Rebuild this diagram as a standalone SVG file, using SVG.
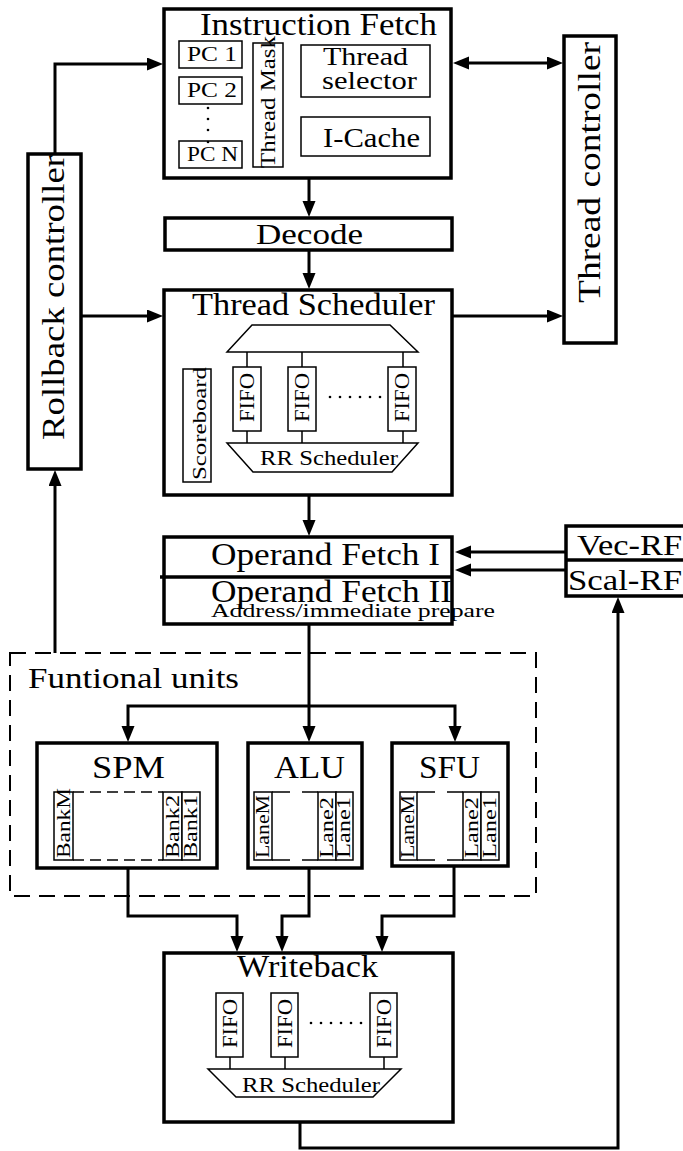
<svg xmlns="http://www.w3.org/2000/svg" width="683" height="1151" viewBox="0 0 683 1151">
  <style>
    text { font-family: "Liberation Serif", "DejaVu Serif", serif; fill: #000; }
    .blk { fill: #fff; stroke: #000; stroke-width: 3.5; }
    .sub { fill: #fff; stroke: #000; stroke-width: 1.5; }
    .thin { fill: none; stroke: #000; stroke-width: 1.5; }
    .dsh { fill: none; stroke: #000; stroke-width: 1.5; stroke-dasharray: 11 6; }
    .fu { fill: none; stroke: #000; stroke-width: 2; stroke-dasharray: 16 9; }
    .wire { fill: none; stroke: #000; stroke-width: 3; }
    .arr { marker-end: url(#head); }
    .t32 { font-size: 32px; }
    .t30 { font-size: 30px; }
    .t28 { font-size: 28px; }
    .t26 { font-size: 26px; }
    .t22 { font-size: 22px; }
    .t21 { font-size: 21px; }
    .t19 { font-size: 19px; }
    .t18 { font-size: 18px; }
  </style>
  <defs>
    <marker id="head" markerUnits="userSpaceOnUse" markerWidth="17" markerHeight="14" refX="1" refY="6.5" orient="auto-start-reverse">
      <path d="M0,0 L16,6.5 L0,13 z" fill="#000"/>
    </marker>
  </defs>

  <!-- Instruction Fetch -->
  <g id="instruction-fetch">
    <rect class="blk" x="164" y="9" width="287" height="169"/>
    <text class="t32" x="200" y="35" textLength="237" lengthAdjust="spacingAndGlyphs">Instruction Fetch</text>
    <rect class="sub" x="179" y="41" width="63" height="27"/>
    <text class="t21" x="187" y="61" textLength="50" lengthAdjust="spacingAndGlyphs">PC 1</text>
    <rect class="sub" x="179" y="77" width="63" height="27"/>
    <text class="t21" x="187" y="97" textLength="50" lengthAdjust="spacingAndGlyphs">PC 2</text>
    <rect class="sub" x="179" y="141" width="63" height="27"/>
    <text class="t21" x="187" y="161" textLength="51" lengthAdjust="spacingAndGlyphs">PC N</text>
    <g fill="#000">
      <circle cx="208" cy="108" r="1.3"/>
      <circle cx="208" cy="119" r="1.3"/>
      <circle cx="208" cy="130" r="1.3"/>
      <circle cx="208" cy="142" r="1.3"/>
    </g>
    <rect class="sub" x="253" y="43" width="30" height="124"/>
    <text class="t22" transform="translate(275,168) rotate(-90)" textLength="132" lengthAdjust="spacingAndGlyphs">Thread Mask</text>
    <rect class="sub" x="301" y="45" width="129" height="52"/>
    <text class="t26" x="323" y="65" textLength="85" lengthAdjust="spacingAndGlyphs">Thread</text>
    <text class="t26" x="322" y="89" textLength="95" lengthAdjust="spacingAndGlyphs">selector</text>
    <rect class="sub" x="301" y="117" width="129" height="39"/>
    <text class="t28" x="323" y="147" textLength="97" lengthAdjust="spacingAndGlyphs">I-Cache</text>
  </g>

  <!-- Decode -->
  <g id="decode">
    <rect class="blk" x="165" y="218" width="287" height="32"/>
    <text class="t30" x="256" y="244" textLength="107" lengthAdjust="spacingAndGlyphs">Decode</text>
  </g>

  <!-- Thread Scheduler -->
  <g id="thread-scheduler">
    <rect class="blk" x="164" y="290" width="288" height="205"/>
    <text class="t32" x="192" y="315" textLength="243" lengthAdjust="spacingAndGlyphs">Thread Scheduler</text>
    <polygon class="thin" points="252,325 390,325 418,352 227,352"/>
    <rect class="sub" x="183" y="369" width="28" height="113"/>
    <text class="t19" transform="translate(206,480) rotate(-90)" textLength="113" lengthAdjust="spacingAndGlyphs">Scoreboard</text>
    <path class="thin" d="M247 352 V367 M302 352 V367 M403 352 V367 M247 431 V443 M302 431 V443 M403 431 V443"/>
    <rect class="sub" x="233" y="367" width="28" height="64"/>
    <text class="t22" transform="translate(254,422) rotate(-90)" textLength="49" lengthAdjust="spacingAndGlyphs">FIFO</text>
    <rect class="sub" x="288" y="367" width="28" height="64"/>
    <text class="t22" transform="translate(309,422) rotate(-90)" textLength="49" lengthAdjust="spacingAndGlyphs">FIFO</text>
    <rect class="sub" x="388" y="367" width="28" height="64"/>
    <text class="t22" transform="translate(409,422) rotate(-90)" textLength="49" lengthAdjust="spacingAndGlyphs">FIFO</text>
    <g fill="#000">
      <circle cx="330" cy="397" r="1.3"/>
      <circle cx="340" cy="397" r="1.3"/>
      <circle cx="350" cy="397" r="1.3"/>
      <circle cx="360" cy="397" r="1.3"/>
      <circle cx="370" cy="397" r="1.3"/>
      <circle cx="380" cy="397" r="1.3"/>
    </g>
    <polygon class="thin" points="227,443 418,443 392,472 253,472"/>
    <text class="t21" x="260" y="465" textLength="138" lengthAdjust="spacingAndGlyphs">RR Scheduler</text>
  </g>

  <!-- Rollback controller -->
  <g id="rollback-controller">
    <rect class="blk" x="28" y="154" width="53" height="315"/>
    <text class="t32" transform="translate(64,440) rotate(-90)" textLength="285" lengthAdjust="spacingAndGlyphs">Rollback controller</text>
  </g>

  <!-- Thread controller -->
  <g id="thread-controller">
    <rect class="blk" x="564" y="36" width="52" height="307"/>
    <text class="t32" transform="translate(600,303) rotate(-90)" textLength="261" lengthAdjust="spacingAndGlyphs">Thread controller</text>
  </g>

  <!-- Operand Fetch -->
  <g id="operand-fetch">
    <rect class="blk" x="164" y="537" width="288" height="87"/>
    <line class="wire" x1="160" y1="577" x2="452" y2="577" style="stroke-width:3.5"/>
    <text class="t32" x="211" y="565" textLength="229" lengthAdjust="spacingAndGlyphs">Operand Fetch I</text>
    <text class="t32" x="211" y="602" textLength="241" lengthAdjust="spacingAndGlyphs">Operand Fetch II</text>
    <text class="t18" x="211" y="617" textLength="284" lengthAdjust="spacingAndGlyphs">Address/immediate prepare</text>
  </g>

  <!-- Register files -->
  <g id="register-files">
    <rect class="blk" x="566" y="526" width="124" height="70"/>
    <line class="wire" x1="566" y1="560" x2="690" y2="560" style="stroke-width:3.5"/>
    <text class="t30" x="577" y="555" textLength="105" lengthAdjust="spacingAndGlyphs">Vec-RF</text>
    <text class="t30" x="568" y="590" textLength="114" lengthAdjust="spacingAndGlyphs">Scal-RF</text>
  </g>

  <!-- Functional units -->
  <g id="functional-units">
    <rect class="fu" x="10" y="653" width="526" height="243"/>
    <text class="t30" x="28" y="688" textLength="211" lengthAdjust="spacingAndGlyphs">Funtional units</text>
  </g>

  <g id="spm">
    <rect class="blk" x="37" y="743" width="180" height="125"/>
    <text class="t32" x="92" y="778" textLength="73" lengthAdjust="spacingAndGlyphs">SPM</text>
    <rect class="sub" x="54" y="792" width="19" height="68"/>
    <line class="dsh" x1="73" y1="792" x2="163" y2="792"/>
    <line class="dsh" x1="73" y1="860" x2="163" y2="860"/>
    <rect class="sub" x="163" y="792" width="19" height="68"/>
    <rect class="sub" x="182" y="792" width="18" height="68"/>
    <text class="t19" transform="translate(70,858) rotate(-90)" textLength="70" lengthAdjust="spacingAndGlyphs">BankM</text>
    <text class="t19" transform="translate(179,858) rotate(-90)" textLength="63" lengthAdjust="spacingAndGlyphs">Bank2</text>
    <text class="t19" transform="translate(197,858) rotate(-90)" textLength="63" lengthAdjust="spacingAndGlyphs">Bank1</text>
  </g>

  <g id="alu">
    <rect class="blk" x="248" y="743" width="114" height="125"/>
    <text class="t32" x="274" y="778" textLength="71" lengthAdjust="spacingAndGlyphs">ALU</text>
    <rect class="sub" x="254" y="792" width="18" height="68"/>
    <path class="thin" d="M272 792 H290 M302 792 H318 M272 860 H290 M302 860 H318"/>
    <rect class="sub" x="318" y="792" width="18" height="68"/>
    <rect class="sub" x="336" y="792" width="17" height="68"/>
    <text class="t19" transform="translate(269,858) rotate(-90)" textLength="63" lengthAdjust="spacingAndGlyphs">LaneM</text>
    <text class="t19" transform="translate(333,858) rotate(-90)" textLength="61" lengthAdjust="spacingAndGlyphs">Lane2</text>
    <text class="t19" transform="translate(350,858) rotate(-90)" textLength="61" lengthAdjust="spacingAndGlyphs">Lane1</text>
  </g>

  <g id="sfu">
    <rect class="blk" x="392" y="743" width="116" height="123"/>
    <text class="t32" x="419" y="778" textLength="61" lengthAdjust="spacingAndGlyphs">SFU</text>
    <rect class="sub" x="400" y="792" width="17" height="68"/>
    <path class="thin" d="M417 792 H435 M447 792 H463 M417 860 H435 M447 860 H463"/>
    <rect class="sub" x="463" y="792" width="18" height="68"/>
    <rect class="sub" x="481" y="792" width="18" height="68"/>
    <text class="t19" transform="translate(414,858) rotate(-90)" textLength="63" lengthAdjust="spacingAndGlyphs">LaneM</text>
    <text class="t19" transform="translate(478,858) rotate(-90)" textLength="61" lengthAdjust="spacingAndGlyphs">Lane2</text>
    <text class="t19" transform="translate(496,858) rotate(-90)" textLength="61" lengthAdjust="spacingAndGlyphs">Lane1</text>
  </g>

  <!-- Writeback -->
  <g id="writeback">
    <rect class="blk" x="164" y="953" width="289" height="169"/>
    <text class="t32" x="237" y="977" textLength="141" lengthAdjust="spacingAndGlyphs">Writeback</text>
    <rect class="sub" x="216" y="993" width="27" height="64"/>
    <text class="t22" transform="translate(237,1048) rotate(-90)" textLength="49" lengthAdjust="spacingAndGlyphs">FIFO</text>
    <rect class="sub" x="271" y="993" width="27" height="64"/>
    <text class="t22" transform="translate(292,1048) rotate(-90)" textLength="49" lengthAdjust="spacingAndGlyphs">FIFO</text>
    <rect class="sub" x="370" y="993" width="27" height="64"/>
    <text class="t22" transform="translate(391,1048) rotate(-90)" textLength="49" lengthAdjust="spacingAndGlyphs">FIFO</text>
    <path class="thin" d="M230 1057 V1069 M285 1057 V1069 M384 1057 V1069"/>
    <g fill="#000">
      <circle cx="311" cy="1023" r="1.3"/>
      <circle cx="321" cy="1023" r="1.3"/>
      <circle cx="331" cy="1023" r="1.3"/>
      <circle cx="341" cy="1023" r="1.3"/>
      <circle cx="351" cy="1023" r="1.3"/>
      <circle cx="361" cy="1023" r="1.3"/>
    </g>
    <polygon class="thin" points="208,1069 401,1069 373,1097 236,1097"/>
    <text class="t21" x="242" y="1092" textLength="138" lengthAdjust="spacingAndGlyphs">RR Scheduler</text>
  </g>

  <!-- Connectors -->
  <g id="connectors">
    <path class="wire arr" d="M55 154 V64 H148"/>
    <path class="wire" d="M468 63 H548" marker-start="url(#head)" marker-end="url(#head)"/>
    <path class="wire arr" d="M81 316 H148"/>
    <path class="wire arr" d="M452 316 H548"/>
    <path class="wire arr" d="M309 178 V202"/>
    <path class="wire arr" d="M309 250 V274"/>
    <path class="wire arr" d="M309 495 V521"/>
    <path class="wire arr" d="M566 552 H470"/>
    <path class="wire arr" d="M566 570 H470"/>
    <path class="wire arr" d="M309 624 V727"/>
    <path class="wire arr" d="M309 706 H128 V727"/>
    <path class="wire arr" d="M309 706 H455 V727"/>
    <path class="wire arr" d="M55 653 V485"/>
    <path class="wire arr" d="M128 868 V916 H237 V937"/>
    <path class="wire arr" d="M309 868 V916 H282 V937"/>
    <path class="wire arr" d="M454 866 V916 H382 V937"/>
    <path class="wire arr" d="M300 1122 V1148 H618 V612"/>
  </g>
</svg>
